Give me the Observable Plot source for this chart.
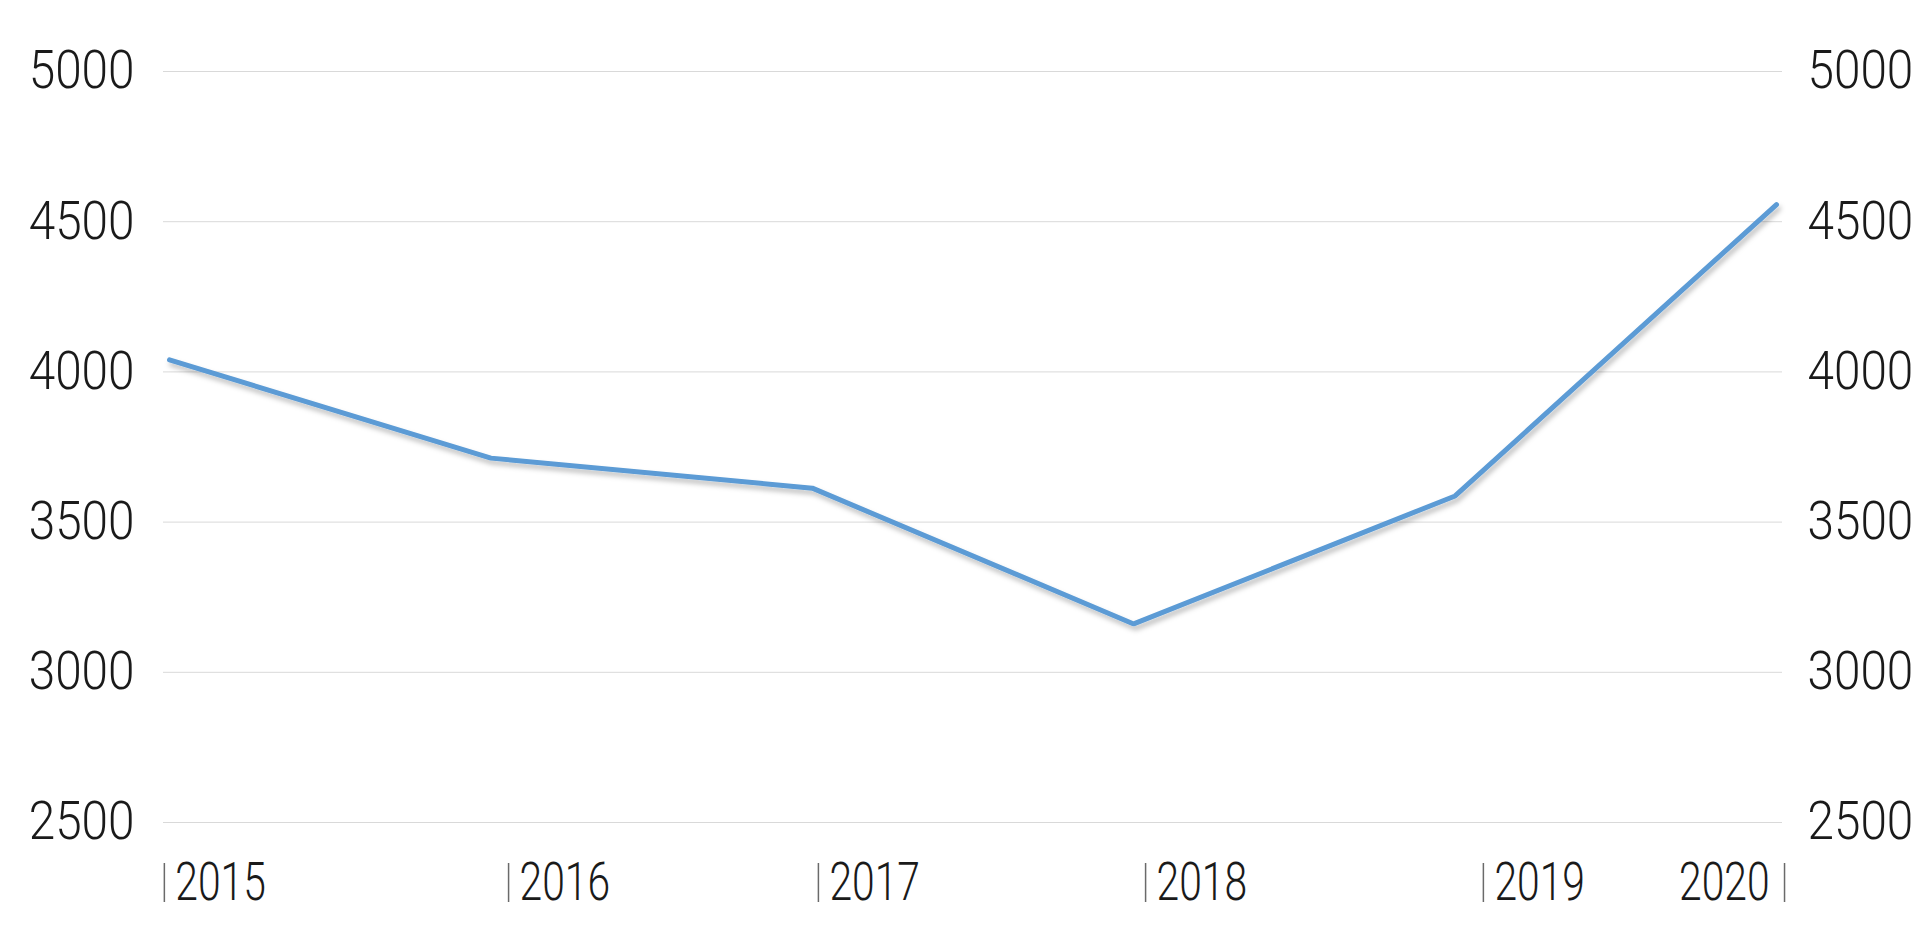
<!DOCTYPE html>
<html>
<head>
<meta charset="utf-8">
<script src="https://cdn.jsdelivr.net/npm/d3@7"></script>
<script src="https://cdn.jsdelivr.net/npm/@observablehq/plot@0.6"></script>
<style>
  html, body { margin: 0; padding: 0; background: #fff; overflow: hidden; }
</style>
</head>
<body>
<div id="chart"></div>
<script>
// Data
const years = [2015, 2016, 2017, 2018, 2019, 2020];
const values = [4040, 3713, 3613, 3161, 3587, 4557];
const yTicks = [2500, 3000, 3500, 4000, 4500, 5000];
// x-axis tick positions (in year units) and their labels
const xTickYears = [2014.984, 2016.055, 2017.019, 2018.037, 2019.088, 2020.025];
const xTickLabels = ["2015", "2016", "2017", "2018", "2019", "2020"];

const data = years.map((y, i) => ({year: y, value: values[i]}));
const ticks = xTickYears.map((t, i) => ({t, label: xTickLabels[i]}));
const ticksStart = ticks.slice(0, ticks.length - 1);
const ticksEnd = ticks.slice(ticks.length - 1);

const font = "Roboto, 'Liberation Sans', sans-serif";

const chart = Plot.plot({
  width: 1920,
  height: 929,
  marginLeft: 163,
  marginRight: 138,
  marginTop: 71,
  marginBottom: 107,
  style: {fontFamily: font, fontSize: "53px", fontWeight: 300, color: "#1a1a1a", background: "#fff", overflow: "visible"},
  x: {domain: [2015, 2020], insetLeft: 6, insetRight: 6, axis: null},
  y: {domain: [2500, 5000], axis: null},
  marks: [
    Plot.gridY(yTicks, {stroke: "#d9d9d9", strokeOpacity: 1, strokeWidth: 1}),
    Plot.axisY(yTicks, {anchor: "left", tickSize: 0, tickPadding: 29, label: null, fontSize: 53, fill: "#1a1a1a", tickFormat: d3.format("d"), className: "yax"}),
    Plot.axisY(yTicks, {anchor: "right", tickSize: 0, tickPadding: 25, label: null, fontSize: 53, fill: "#1a1a1a", tickFormat: d3.format("d"), className: "yax"}),
    Plot.axisX(xTickYears, {anchor: "bottom", tickSize: 39, dy: 41, tickFormat: () => "", label: null, stroke: "#6a6a6a", strokeWidth: 1.5}),
    Plot.text(ticksStart, {x: "t", text: "label", frameAnchor: "bottom", dy: 61, dx: 11, lineAnchor: "middle", textAnchor: "start", fontSize: 53, fill: "#1a1a1a"}),
    Plot.text(ticksEnd, {x: "t", text: "label", frameAnchor: "bottom", dy: 61, dx: -15, lineAnchor: "middle", textAnchor: "end", fontSize: 53, fill: "#1a1a1a"}),
    Plot.line(data, {x: "year", y: "value", stroke: "#5b9bd5", strokeWidth: 5, strokeLinecap: "round", strokeLinejoin: "miter", className: "main-line"})
  ]
});

// condense text horizontally (reference uses a condensed light face)
chart.querySelectorAll("text").forEach(t => {
  const SX = xTickLabels.includes(t.textContent.trim()) ? 0.77 : 0.9;
  const tr = t.getAttribute("transform");
  if (tr) {
    t.setAttribute("transform", tr + ` scale(${SX},1)`);
  } else {
    const x = +(t.getAttribute("x") || 0), y = +(t.getAttribute("y") || 0);
    t.removeAttribute("x"); t.removeAttribute("y");
    t.setAttribute("transform", `translate(${x},${y}) scale(${SX},1)`);
  }
});

// soft drop shadow for the line
const ns = "http://www.w3.org/2000/svg";
const defs = document.createElementNS(ns, "defs");
defs.innerHTML = '<filter id="shadow" x="-5%" y="-10%" width="110%" height="130%"><feDropShadow dx="2" dy="4" stdDeviation="2.5" flood-color="#000" flood-opacity="0.25"/></filter>';
chart.insertBefore(defs, chart.firstChild);
chart.querySelectorAll(".main-line path").forEach(p => p.setAttribute("filter", "url(#shadow)"));
document.getElementById("chart").appendChild(chart);
</script>
</body>
</html>
